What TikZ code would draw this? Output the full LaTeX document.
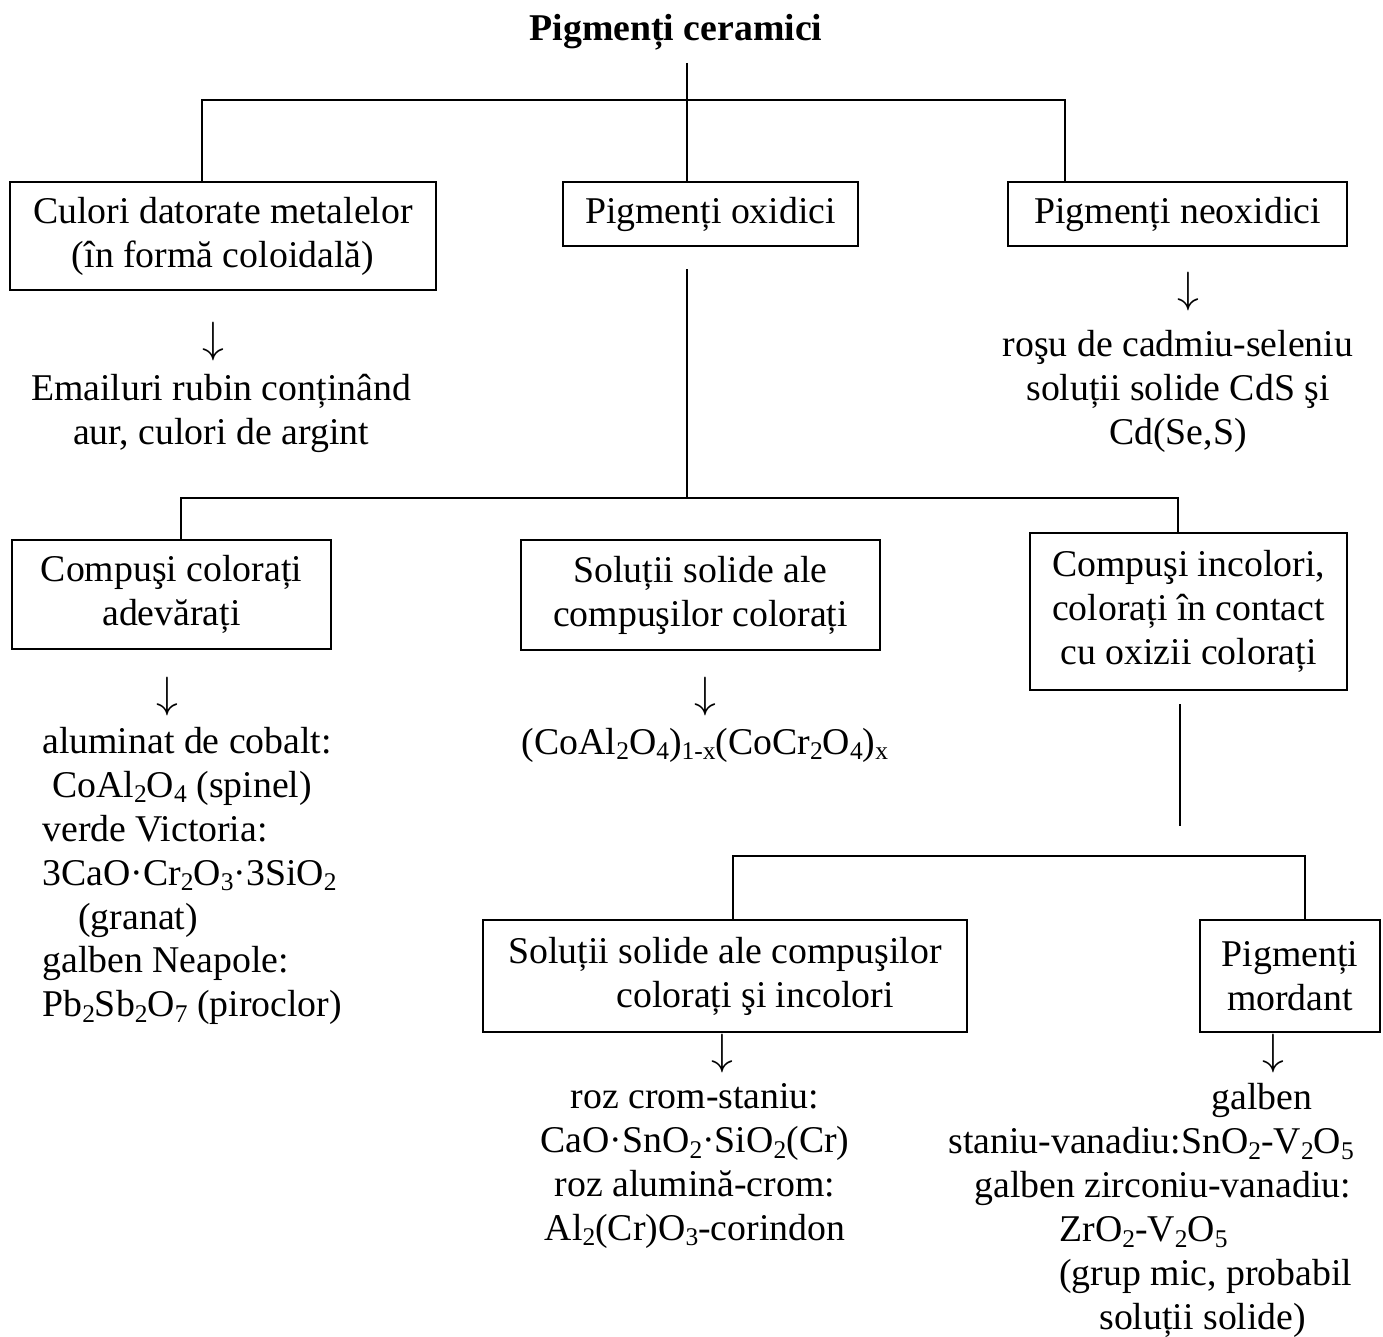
\documentclass[tikz,border=0pt]{standalone}
\usepackage{fontspec}
\setmainfont{Liberation Serif}
\usetikzlibrary{positioning}
\newcommand{\ind}[1]{\raisebox{-0.32ex}{\fontsize{14.5}{15}\selectfont #1}}
\tikzset{
  caseta/.style={rectangle, draw, line width=1.2pt, inner sep=0pt, align=center},
  lista/.style={inner sep=0pt, align=center},
  sageata/.style={inner sep=0pt, font={\fontsize{23}{25}\selectfont}},
  linie/.style={line width=1.2pt},
}

\begin{document}
\begin{tikzpicture}[font={\fontsize{21.5}{25}\selectfont}]
  \useasboundingbox (0,0) rectangle (27.66,-26.72);
  % nivelul 1
  \node[inner sep=0pt, font={\fontsize{21.5}{25}\selectfont\bfseries}] (titlu) at (13.52,-0.64) {Pigmenți ceramici};
  \node[caseta, minimum width=8.52cm, minimum height=2.16cm] (metal) at (4.46,-4.72) {Culori datorate metalelor\\(în formă coloidală)};
  \node[caseta, minimum width=5.9cm, minimum height=1.28cm] (oxid) at (14.21,-4.28) {Pigmenți oxidici};
  \node[caseta, minimum width=6.78cm, minimum height=1.28cm] (neox) at (23.55,-4.28) {Pigmenți neoxidici};
  \coordinate (r1s) at (4.04,-2.0);
  \coordinate (r1m) at (13.74,-2.0);
  \coordinate (r1d) at (21.3,-2.0);
  \draw[linie] ([yshift=-0.25cm]titlu.south -| r1m) -- (r1m |- oxid.north);
  \draw[linie] (r1s |- metal.north) -- (r1s) -- (r1d) -- (r1d |- neox.north);

  \node[sageata] (sA) at (4.26,-6.84) {$\downarrow$};
  \node[lista] (email) at (4.42,-8.26) {Emailuri rubin conținând\\aur, culori de argint};
  \node[sageata] (sC) at (23.76,-5.84) {$\downarrow$};
  \node[lista] (cadmiu) at (23.56,-7.82) {roşu de cadmiu-seleniu\\soluții solide CdS şi\\Cd(Se,S)};

  % nivelul 2
  \node[caseta, minimum width=6.38cm, minimum height=2.18cm] (adev) at (3.43,-11.89) {Compuşi colorați\\adevărați};
  \node[caseta, minimum width=7.18cm, minimum height=2.2cm] (solcol) at (14.01,-11.9) {Soluții solide ale\\compuşilor colorați};
  \node[caseta, minimum width=6.34cm, minimum height=3.14cm] (incol) at (23.77,-12.23) {Compuşi incolori,\\colorați în contact\\cu oxizii colorați};
  \coordinate (r2s) at (3.62,-9.96);
  \coordinate (r2m) at (13.74,-9.96);
  \coordinate (r2d) at (23.56,-9.96);
  \draw[linie] ([yshift=-0.44cm]oxid.south -| r2m) -- (r2m);
  \draw[linie] (r2s |- adev.north) -- (r2s) -- (r2d) -- (r2d |- incol.north);

  \node[sageata] (sD) at (3.34,-13.94) {$\downarrow$};
  \node[lista, anchor=west, align=left] (cobalt) at (0.84,-17.52) {aluminat de cobalt:\\
    \hspace*{0.2cm}CoAl\ind{2}O\ind{4} (spinel)\\
    verde Victoria:\\
    3CaO·Cr\ind{2}O\ind{3}·3SiO\ind{2}\\
    \hspace*{0.72cm}(granat)\\
    galben Neapole:\\
    Pb\ind{2}Sb\ind{2}O\ind{7} (piroclor)};
  \node[sageata] (sE) at (14.1,-13.94) {$\downarrow$};
  \node[lista] (formula) at (14.1,-14.9) {(CoAl\ind{2}O\ind{4})\ind{1-x}(CoCr\ind{2}O\ind{4})\ind{x}};

  % nivelul 3
  \node[caseta, minimum width=9.68cm, minimum height=2.24cm] (solinc) at (14.5,-19.52) {Soluții solide ale compuşilor\\\hspace*{1.2cm}colorați şi incolori};
  \node[caseta, minimum width=3.6cm, minimum height=2.24cm] (mord) at (25.8,-19.52) {Pigmenți\\mordant};
  \coordinate (r3s) at (14.66,-17.12);
  \coordinate (r3d) at (26.1,-17.12);
  \draw[linie] ([yshift=-0.26cm]incol.south -| 23.6,0) -- ++(0,-2.44);
  \draw[linie] (r3s |- solinc.north) -- (r3s) -- (r3d) -- (r3d |- mord.north);

  \node[sageata] (sG) at (14.44,-21.08) {$\downarrow$};
  \node[lista] (crom) at (13.9,-23.32) {roz crom-staniu:\\CaO·SnO\ind{2}·SiO\ind{2}(Cr)\\roz alumină-crom:\\Al\ind{2}(Cr)O\ind{3}-corindon};
  \node[sageata] (sH) at (25.46,-21.08) {$\downarrow$};
  \node[lista, anchor=west, align=left] (vanadiu) at (18.96,-24.21) {\hspace*{5.26cm}galben\\
    staniu-vanadiu:SnO\ind{2}-V\ind{2}O\ind{5}\\
    \hspace*{0.52cm}galben zirconiu-vanadiu:\\
    \hspace*{2.22cm}ZrO\ind{2}-V\ind{2}O\ind{5}\\
    \hspace*{2.22cm}(grup mic, probabil\\
    \hspace*{3.02cm}soluții solide)};
\end{tikzpicture}
\end{document}
